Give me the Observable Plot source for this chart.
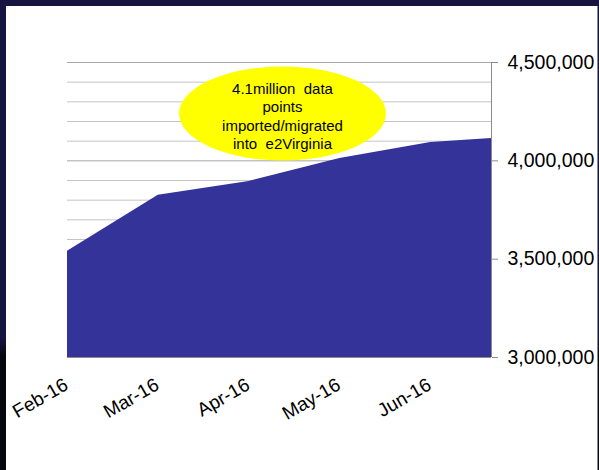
<!DOCTYPE html>
<html>
<head>
<meta charset="utf-8">
<script src="https://cdn.jsdelivr.net/npm/d3@7"></script>
<script src="https://cdn.jsdelivr.net/npm/@observablehq/plot@0.6"></script>
<style>
  html, body { margin: 0; padding: 0; }
  body {
    width: 599px; height: 470px; overflow: hidden; position: relative;
    background: linear-gradient(#151540 0%, #151540 72%, #06060e 76%, #06060e 100%);
  }
  #panel {
    position: absolute; left: 6px; top: 6px; width: 591px; height: 464px;
    background: #ffffff; border-right: 1px solid #8a8a8a;
  }
</style>
</head>
<body>
<div id="panel"></div>
<script>
// ---- data ----
const months = ["Feb-16", "Mar-16", "Apr-16", "May-16", "Jun-16"];
const monthIndex = [0, 1, 2, 3, 4, 4.67];           // position of each data point along the month axis
const dataPoints = [3540000, 3825000, 3895000, 4012000, 4093000, 4114000];
const yTicks = [3000000, 3500000, 4000000, 4500000];
const noteLines = ["4.1million\u00a0 data", "points", "imported/migrated", "into\u00a0 e2Virginia"];

const series = monthIndex.map((x, i) => ({x, v: dataPoints[i]}));
const labels = months.map((m, i) => ({x: i, label: m}));
const minorTicks = d3.range(3100000, 4500000, 100000).filter(v => !yTicks.includes(v));
const xMax = d3.max(monthIndex);
const note = noteLines.join("\n");

const chart = Plot.plot({
  width: 591,
  height: 464,
  marginLeft: 61,
  marginRight: 106,
  marginTop: 56,
  marginBottom: 113,
  x: {domain: [0, xMax], axis: null, label: null},
  y: {domain: [3000000, 4500000], axis: null, label: null},
  style: {fontFamily: "'Liberation Sans', Arial, sans-serif", background: "white", color: "black"},
  marks: [
    Plot.ruleY(minorTicks, {stroke: "#c4c4c4", strokeWidth: 1}),
    Plot.ruleY(yTicks, {stroke: "#a6a6a6", strokeWidth: 1}),
    Plot.areaY(series, {x: "x", y: "v", fill: "#333399", clip: true}),
    Plot.ruleX([xMax], {stroke: "#8c8c8c"}),
    Plot.ruleY([3000000], {stroke: "#8c8c8c"}),
    Plot.axisY({
      anchor: "right", ticks: yTicks, tickFormat: d3.format(","), label: null,
      tickSize: 6, tickPadding: 10, fontSize: 19.5, color: "#000", stroke: "#8c8c8c"
    }),
    Plot.text(labels, {
      x: "x", frameAnchor: "bottom", text: "label", rotate: -30,
      textAnchor: "end", lineAnchor: "bottom", dx: 2, dy: 31, fontSize: 19, fill: "#000"
    }),
    Plot.dot([note], {frameAnchor: "top", dx: 3, dy: 51, r: 47, fill: "#ffff00", stroke: "none"}),
    Plot.text([note], {
      frameAnchor: "top", dx: 3, dy: 53, text: d => d, lineAnchor: "middle",
      fontSize: 15, lineHeight: 1.22, fill: "#000"
    })
  ]
});

// stretch the annotation circle into an ellipse
d3.select(chart).selectAll("circle").each(function () {
  const c = d3.select(this);
  const cx = +c.attr("cx") || 0, cy = +c.attr("cy") || 0;
  const prev = c.attr("transform") || "";
  c.attr("transform", `${prev} translate(${cx},${cy}) scale(2.2,1) translate(${-cx},${-cy})`);
});

document.getElementById("panel").appendChild(chart);
</script>
</body>
</html>
